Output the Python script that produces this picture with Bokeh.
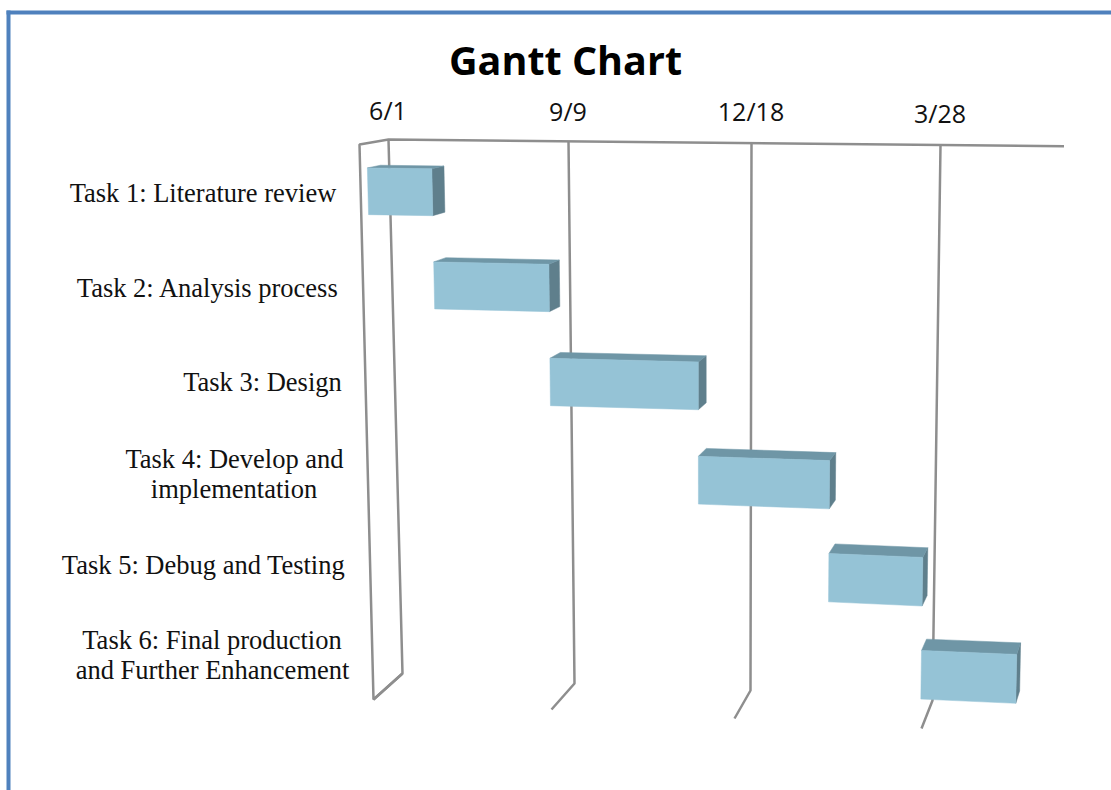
from bokeh.plotting import figure
from bokeh.embed import file_html
from bokeh.resources import INLINE
from bokeh.core.properties import value
import numpy as np

# ---- chart data ----
title_text = "Gantt Chart"
task_labels = ["Task 1: Literature review", "Task 2: Analysis process", "Task 3: Design",
               "Task 4: Develop and\nimplementation", "Task 5: Debug and Testing",
               "Task 6: Final production\nand Further Enhancement"]
durations = [35, 63, 80, 70, 50, 50]          # days
tick_labels = ["6/1", "9/9", "12/18", "3/28"]
tick_days = [0, 100, 200, 300]
axis_end_day = 364

# ---- layout: the 3-D box that the library's scales then place on the page ----
W, H = 1111, 790
knots = [0, 100, 200, 300, 400]
front_top_x = [359, 545, 735, 929, 1127]
front_bot_x = [373, 551, 734, 921, 1112]
back_top_x = [388, 568, 751, 940, 1133]
back_bot_x = [402, 574, 750, 932, 1118]
front_top_y = [144, 146, 148, 150, 151]
front_bot_y = [699, 709, 718, 728, 737]
back_top_y = [139, 141, 143, 145, 146]
back_bot_y = [673, 683, 690, 700, 708]
bar_band = 0.51
bar_offset = [0.004, 0.006, 0.008, 0.009, 0.006, 0.002]
bar_depth = (0.25, 0.70)
label_cx = [202.5, 207.5, 262, 234, 203, 211.5]
label_line2_cx = [None, None, None, 233.5, None, 212]
label_cy = [192, 287, 381, 458, 564, 639]
tick_label_cy = [109, 110, 110, 112]
line_gap = 30


def proj(t, v, d):
    def f(k):
        return float(np.interp(t, knots, k))
    x_f = f(front_top_x) * (1 - v) + f(front_bot_x) * v
    y_f = f(front_top_y) * (1 - v) + f(front_bot_y) * v
    x_b = f(back_top_x) * (1 - v) + f(back_bot_x) * v
    y_b = f(back_top_y) * (1 - v) + f(back_bot_y) * v
    return x_f + (x_b - x_f) * d, y_f + (y_b - y_f) * d


def poly(points):
    pts = [proj(*q) for q in points]
    return [a for a, _ in pts], [b for _, b in pts]


p = figure(width=W, height=H, x_range=(0, W), y_range=(H, 0), output_backend="svg",
           toolbar_location=None, min_border=0, outline_line_color=None,
           background_fill_color="white", border_fill_color="white",
           styles={"position": "absolute", "left": "0px", "top": "0px"})
p.axis.visible = False
p.grid.visible = False

# page frame
p.quad(left=[6, 6], right=[W, 10], top=[10, 10], bottom=[14, H], fill_color="#4f81bd", line_color=None)

# box outline and gridlines
grid_color = "#8e8e8e"
outline = [poly([(0, 1, 1), (0, 1, 0), (0, 0, 0), (0, 0, 1), (axis_end_day, 0, 1)])]
p.line(outline[0][0], outline[0][1], line_color=grid_color, line_width=2.5)
for t in tick_days:
    xs, ys = poly([(t, 0, 1), (t, 1, 1), (t, 1, 0)])
    p.line(xs, ys, line_color=grid_color, line_width=2.5)

# bars
fronts, tops, sides = ([], []), ([], []), ([], [])
start = 0
n = len(durations)
for i, dur in enumerate(durations):
    end = start + dur
    c = (i + 0.5) / n + bar_offset[i]
    v0, v1 = c - bar_band / n / 2, c + bar_band / n / 2
    d0, d1 = bar_depth
    for store, pts in (
        (fronts, [(start, v0, d0), (end, v0, d0), (end, v1, d0), (start, v1, d0)]),
        (tops, [(start, v0, d0), (start, v0, d1), (end, v0, d1), (end, v0, d0)]),
        (sides, [(end, v0, d0), (end, v0, d1), (end, v1, d1), (end, v1, d0)]),
    ):
        a, b = poly(pts)
        store[0].append(a)
        store[1].append(b)
    start = end
p.patches(sides[0], sides[1], fill_color="#5f7f8c", line_color="#5f7f8c", line_width=0.5)
p.patches(tops[0], tops[1], fill_color="#6f96a6", line_color="#6f96a6", line_width=0.5)
p.patches(fronts[0], fronts[1], fill_color="#95c3d6", line_color="#95c3d6", line_width=0.5)

# task labels
tx, ty, tt = [], [], []
for i, lab in enumerate(task_labels):
    parts = lab.split("\n")
    tx.append(label_cx[i]); ty.append(label_cy[i]); tt.append(parts[0])
    if len(parts) > 1:
        tx.append(label_line2_cx[i]); ty.append(label_cy[i] + line_gap); tt.append(parts[1])
p.text(tx, ty, text=tt, text_font=value("Liberation Serif"), text_font_size="26.5px",
       text_align="center", text_baseline="middle", text_color="#111111")

# tick labels
lx = [proj(t, 0, 1)[0] - 0.5 for t in tick_days]
p.text(lx, tick_label_cy, text=tick_labels, text_font=value("Open Sans"), text_font_size="25px",
       text_align="center", text_baseline="middle", text_color="#111111")

# title
p.text([565], [59.5], text=[title_text], text_font=value("Open Sans"), text_font_size="39.5px",
       text_font_style="bold", text_align="center", text_baseline="middle", text_color="#000000")

open("out.html", "w").write(file_html(p, INLINE))
